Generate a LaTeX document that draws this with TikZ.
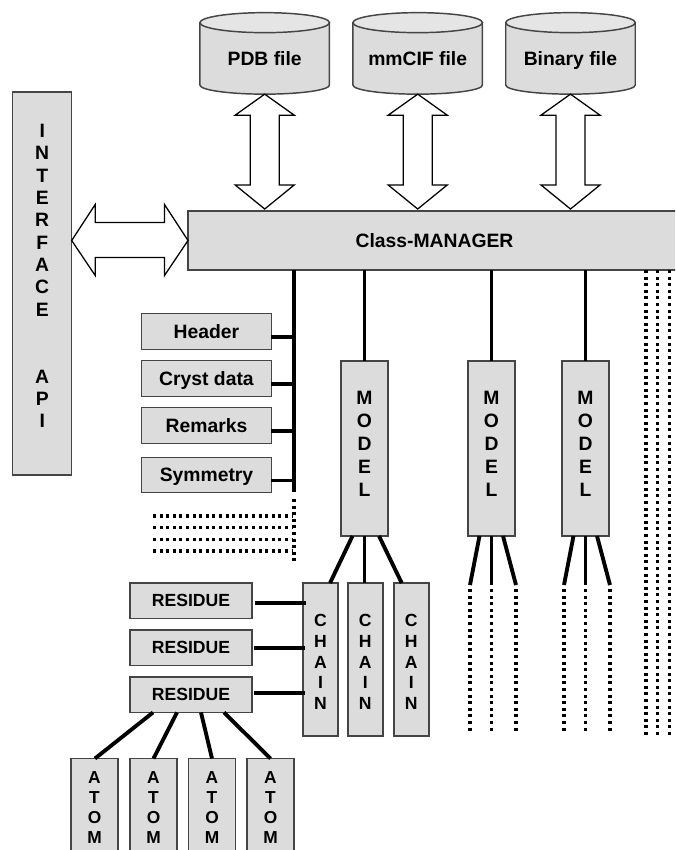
\documentclass[tikz,border=0pt]{standalone}
\usepackage{fontspec}
\setmainfont{Liberation Sans}
\definecolor{boxfill}{HTML}{DCDCDC}
\definecolor{boxline}{HTML}{454545}
\tikzset{
  base/.style={draw=boxline,fill=boxfill,line width=1.1pt,inner sep=0pt,outer sep=0pt},
  sized/.style 2 args={minimum width=#1*0.75pt,minimum height=#2*0.75pt},
  lbl/.style={font=\fontsize{14.5}{17}\selectfont\bfseries,text=black,text height=10.4pt,text depth=0.2pt},
  infobox/.style={base,sized={129.5}{35.5},lbl},
  resbox/.style={base,sized={122}{35.5},font=\fontsize{13.2}{16}\selectfont\bfseries},
  modelbox/.style={base,sized={47}{175},label={[align=center,yshift=3.4pt,font=\fontsize{14.5}{17.2}\selectfont\bfseries]center:M\\O\\D\\E\\L}},
  chainbox/.style={base,sized={35}{153},label={[align=center,yshift=-1.9pt,font=\fontsize{13.2}{15.6}\selectfont\bfseries]center:C\\H\\A\\I\\N}},
  atombox/.style={base,sized={47}{98},label={[align=center,font=\fontsize{13}{15.1}\selectfont\bfseries]center:A\\T\\O\\M}},
  solid link/.style={draw=black,line width=2.9pt},
  dot link/.style={draw=black,line width=2.4pt,dash pattern=on 2.3pt off 2.65pt},
  hollow/.style={draw=black,fill=white,line width=0.95pt,line join=miter},
  cylnode/.style={inner sep=0pt,outer sep=0pt,sized={129.5}{81.5}},
  cylbody/.style={draw=boxline,fill=boxfill,line width=1.1pt},
  cyltop/.style={draw=boxline,fill=boxfill!75!white,line width=1.1pt},
}
\newcommand{\filecyl}[3]{%
  \node[cylnode] (#1) at (#2,53.4) {};
  \path[cylbody] ([yshift=-7.5pt]#1.north west) -- ([yshift=6.8pt]#1.south west)
     arc[start angle=180,end angle=360,x radius=48.56pt,y radius=6.8pt] -- ([yshift=-7.5pt]#1.north east) -- cycle;
  \path[cyltop] ([yshift=-7.5pt]#1.north) ellipse[x radius=48.56pt,y radius=7.5pt];
  \node[lbl] (#1-text) at (#2,58.5) {#3};
}
% vertical double arrow from a file cylinder to the manager
\newcommand{\filearrow}[1]{%
  \coordinate (#1-a) at (#1.south);
  \coordinate (#1-b) at ([yshift=1.5pt]mgr.north -| #1.south);
  \draw[hollow] (#1-a) -- ([shift={(29.5,21)}]#1-a) -- ([shift={(14.5,21)}]#1-a)
     -- ([shift={(14.5,-24)}]#1-b) -- ([shift={(29.5,-24)}]#1-b) -- (#1-b)
     -- ([shift={(-29.5,-24)}]#1-b) -- ([shift={(-14.5,-24)}]#1-b)
     -- ([shift={(-14.5,21)}]#1-a) -- ([shift={(-29.5,21)}]#1-a) -- cycle;
}
\begin{document}
\begin{tikzpicture}[x=0.75pt,y=-0.75pt]
\useasboundingbox (0,0) rectangle (675,850);
\clip (0,0) rectangle (675,850);

% manager and interface
\node[base,sized={493}{59},lbl] (mgr) at (434.5,240.5) {Class-MANAGER};
\node[base,sized={59}{383},label={[align=center,yshift=5.6pt,font=\fontsize{14.5}{16.75}\selectfont\bfseries]center:I\\N\\T\\E\\R\\F\\A\\C\\E\\\mbox{}\\\mbox{}\\A\\P\\I}] (iface) at (42.2,283.5) {};

% files
\filecyl{pdb}{264.7}{PDB file}
\filecyl{cif}{417.7}{mmCIF file}
\filecyl{bin}{570.5}{Binary file}
\filearrow{pdb}
\filearrow{cif}
\filearrow{bin}

% interface <-> manager arrow
\coordinate (ifl) at (iface.east |- mgr.west);
\draw[hollow] (ifl) -- ([shift={(23.5,-36)}]ifl) -- ([shift={(23.5,-18)}]ifl)
   -- ([shift={(-23.5,-18)}]mgr.west) -- ([shift={(-23.5,-36)}]mgr.west) -- (mgr.west)
   -- ([shift={(-23.5,35)}]mgr.west) -- ([shift={(-23.5,17)}]mgr.west)
   -- ([shift={(23.5,17)}]ifl) -- ([shift={(23.5,35)}]ifl) -- cycle;

% info boxes and bus
\node[infobox] (hdr) at (206.5,331.5) {Header};
\node[infobox] (cry) at (206.5,378.5) {Cryst data};
\node[infobox] (rem) at (206.5,425.5) {Remarks};
\node[infobox] (sym) at (206.5,475) {Symmetry};
\coordinate (busend) at (294,492);
\coordinate (busdots) at (294,499);
\coordinate (busdotsend) at (294,563);
\draw[solid link] (mgr.south -| busend) -- (busend);
\draw[dot link] (busdots) -- (busdotsend);
\foreach \b in {hdr,cry,rem,sym}{
  \draw[solid link] ([yshift=-4.1pt]\b.east) -- ([yshift=-4.1pt]\b.east -| busend);
}
\foreach \yy/\nn in {516/a,527.6/b,539.2/c,551/d}{
  \coordinate (dl\nn) at (153,\yy);
  \coordinate (dr\nn) at (292,\yy);
  \draw[dot link] (dl\nn) -- (dr\nn);
}

% models
\node[modelbox] (m1) at (364.5,448.5) {};
\node[modelbox] (m2) at (491.5,448.5) {};
\node[modelbox] (m3) at (585.5,448.5) {};
\foreach \m in {m1,m2,m3}{\draw[solid link] (mgr.south -| \m.north) -- (\m.north);}

% chains
\node[chainbox] (c1) at (320.5,659.5) {};
\node[chainbox] (c2) at (365.3,659.5) {};
\node[chainbox] (c3) at (411.3,659.5) {};
\draw[solid link] ([shift={(-12,0)}]m1.south) -- ([shift={(9.5,0)}]c1.north);
\draw[solid link] (m1.south) -- (c2.north -| m1.south);
\draw[solid link] ([shift={(14.5,0)}]m1.south) -- ([shift={(-9.6,0)}]c3.north);

% open branches below models 2 and 3
\foreach \m in {m2,m3}{
  \coordinate (\m l) at ([shift={(-21.5,49)}]\m.south);
  \coordinate (\m c) at ([shift={(0,49)}]\m.south);
  \coordinate (\m r) at ([shift={(24.5,49)}]\m.south);
  \draw[solid link] ([shift={(-12,0)}]\m.south) -- (\m l);
  \draw[solid link] (\m.south) -- (\m c);
  \draw[solid link] ([shift={(11.5,0)}]\m.south) -- (\m r);
  \foreach \e in {l,c,r}{
    \draw[dot link] ([shift={(0,4)}]\m\e) -- ([shift={(0,148)}]\m\e);
  }
}

% far right dotted lines
\foreach \xx/\nn in {646/a,657.7/b,669.3/c}{
  \coordinate (rd\nn) at (\xx,737);
  \draw[dot link] (mgr.south -| rd\nn) -- (rd\nn);
}

% residues
\node[resbox] (r1) at (191,600.7) {RESIDUE};
\node[resbox] (r2) at (191,647.7) {RESIDUE};
\node[resbox] (r3) at (191,694.7) {RESIDUE};
\draw[solid link] ([shift={(3,2.5)}]r1.east) -- ([shift={(3,2.5)}]r1.east -| c1.west);
\draw[solid link] ([shift={(1.5,0.3)}]r2.east) -- ([shift={(1.5,0.3)}]r2.east -| c1.west);
\draw[solid link] ([shift={(2,-2)}]r3.east) -- ([shift={(2,-2)}]r3.east -| c1.west);

% atoms
\node[atombox] (a1) at (94.5,807.5) {};
\node[atombox] (a2) at (153.5,807.5) {};
\node[atombox] (a3) at (212,807.5) {};
\node[atombox] (a4) at (270.5,807.5) {};
\draw[solid link] ([shift={(-38,0)}]r3.south) -- ([shift={(0.5,0)}]a1.north);
\draw[solid link] ([shift={(-14,0)}]r3.south) -- (a2.north);
\draw[solid link] ([shift={(10,0)}]r3.south) -- (a3.north);
\draw[solid link] ([shift={(33,0)}]r3.south) -- (a4.north);
\end{tikzpicture}
\end{document}
